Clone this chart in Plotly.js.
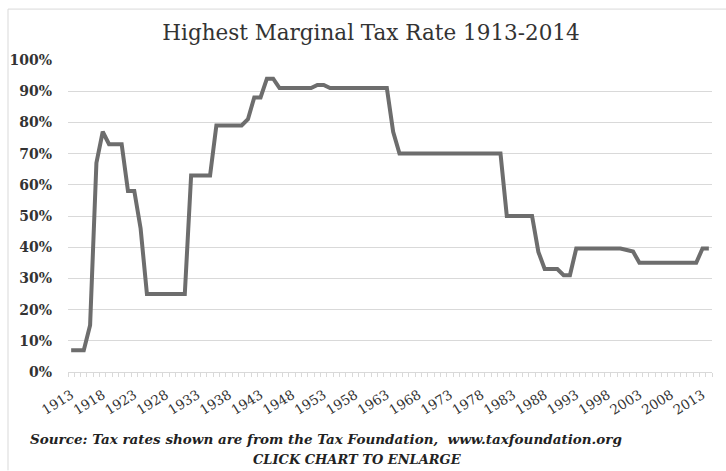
<!DOCTYPE html>
<html>
<head>
<meta charset="utf-8">
<script src="https://cdn.plot.ly/plotly-3.0.1.min.js"></script>
<style>html,body{margin:0;padding:0;background:#fff;}#chart{width:726px;height:471px;}</style>
</head>
<body>
<div id="chart"></div>
<script>
const years = [1913,1914,1915,1916,1917,1918,1919,1920,1921,1922,1923,1924,
  1925,1926,1927,1928,1929,1930,1931,1932,1933,1934,1935,1936,1937,1938,1939,1940,
  1941,1942,1943,1944,1945,1946,1947,1948,1949,1950,1951,1952,1953,1954,1955,1956,
  1957,1958,1959,1960,1961,1962,1963,1964,1965,1966,1967,1968,1969,1970,1971,1972,
  1973,1974,1975,1976,1977,1978,1979,1980,1981,1982,1983,1984,1985,1986,1987,1988,
  1989,1990,1991,1992,1993,1994,1995,1996,1997,1998,1999,2000,2001,2002,2003,2004,
  2005,2006,2007,2008,2009,2010,2011,2012,2013,2014];
const topRate = [7,7,7,15,67,77,73,73,73,58,58,46,
  25,25,25,25,25,25,25,63,63,63,63,79,79,79,79,79,
  81,88,88,94,94,91,91,91,91,91,91,92,92,91,91,91,
  91,91,91,91,91,91,91,77,70,70,70,70,70,70,70,70,
  70,70,70,70,70,70,70,70,70,50,50,50,50,50,38.5,33,
  33,33,31,31,39.6,39.6,39.6,39.6,39.6,39.6,39.6,39.6,39.1,38.6,35,35,
  35,35,35,35,35,35,35,35,39.6,39.6];
const tickYears = [1913,1918,1923,1928,1933,1938,1943,1948,1953,1958,1963,1968,1973,1978,1983,1988,1993,1998,2003,2008,2013];
const tickLabels = tickYears.map(String);
const yTicks = [0,10,20,30,40,50,60,70,80,90,100];

const L = 68, R = 712, T = 60, B = 372.5;
const px = x => (x - L) / (R - L);
const py = y => (B - y) / (B - T);
const serif = "DejaVu Serif";

const trace = {
  x: years, y: topRate, type: 'scatter', mode: 'lines',
  line: {color: '#6d6d6d', width: 4, shape: 'linear'},
  hoverinfo: 'x+y'
};

const layout = {
  width: 726, height: 471,
  margin: {l: L, r: 726 - R, t: T, b: 471 - B},
  paper_bgcolor: '#fff', plot_bgcolor: '#fff',
  showlegend: false,
  title: {
    text: 'Highest Marginal Tax Rate 1913-2014',
    font: {family: serif, size: 21.5, color: '#333'},
    x: 371/726, xanchor: 'center', xref: 'container',
    y: 1 - 32/471, yanchor: 'middle', yref: 'container'
  },
  xaxis: {
    range: [1912.5, 2014.5], fixedrange: true,
    tickmode: 'array', tickvals: tickYears, ticktext: tickLabels,
    tickangle: -32, ticks: '', showgrid: false, zeroline: false,
    showline: true, linecolor: '#d9d9d9', linewidth: 1,
    tickfont: {family: serif, size: 13.5, color: '#333'},
    ticklabelstandoff: 9,
    minor: {tickmode: 'linear', tick0: 1912.5, dtick: 1, ticks: 'outside', ticklen: 4, tickcolor: '#d9d9d9', tickwidth: 1, showgrid: false}
  },
  yaxis: {
    range: [0, 100], fixedrange: true,
    tickmode: 'array', tickvals: yTicks, ticktext: yTicks.map(v => v + '%'),
    ticks: '', showgrid: true, gridcolor: '#d9d9d9', gridwidth: 1,
    zeroline: false, showline: false,
    tickfont: {family: serif, size: 14, color: '#333', weight: 'bold'},
    ticklabelstandoff: 15
  },
  shapes: [
    {type: 'line', xref: 'paper', yref: 'paper', x0: px(8), x1: px(726), y0: py(9), y1: py(9), line: {color: '#d9d9d9', width: 1}},
    {type: 'line', xref: 'paper', yref: 'paper', x0: px(8), x1: px(8), y0: py(9), y1: py(471), line: {color: '#d9d9d9', width: 1}}
  ],
  annotations: [
    {text: 'Source: Tax rates shown are from the Tax Foundation,  www.taxfoundation.org', xref: 'paper', yref: 'paper',
     x: px(28), y: py(440), xanchor: 'left', yanchor: 'middle', showarrow: false,
     font: {family: serif, size: 13.5, color: '#222', style: 'italic', weight: 'bold'}},
    {text: 'CLICK CHART TO ENLARGE', xref: 'paper', yref: 'paper',
     x: px(357), y: py(460), xanchor: 'center', yanchor: 'middle', showarrow: false,
     font: {family: serif, size: 13, color: '#222', style: 'italic', weight: 'bold'}}
  ]
};

Plotly.newPlot('chart', [trace], layout, {displayModeBar: false, staticPlot: true});
</script>
</body>
</html>
